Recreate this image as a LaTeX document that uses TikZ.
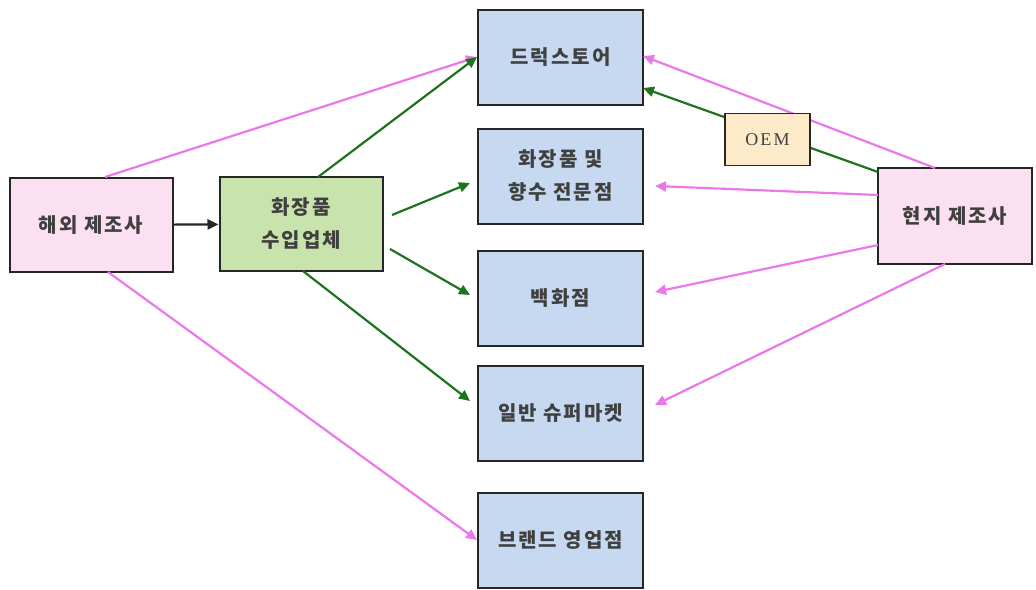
\documentclass[tikz,border=0pt]{standalone}
\usepackage{fontspec}
\newfontfamily\kr[LetterSpace=10]{Noto Sans CJK KR}
\newfontfamily\oemfont[LetterSpace=12]{Liberation Serif}
\usetikzlibrary{arrows.meta}
\definecolor{pinkfill}{RGB}{250,224,240}
\definecolor{greenfill}{RGB}{200,228,172}
\definecolor{bluefill}{RGB}{198,217,240}
\definecolor{oemfill}{RGB}{253,234,200}
\definecolor{pinkline}{RGB}{235,120,235}
\definecolor{greenline}{RGB}{30,115,30}
\tikzset{
  box/.style={draw=black!85, line width=2pt, minimum width=163pt, minimum height=94pt, align=center, font=\kr\bfseries\fontsize{20}{33}\selectfont, text=black!75, inner sep=0pt},
  outlet/.style={box, fill=bluefill, minimum width=165pt, minimum height=95pt},
  tip/.style={-{Triangle[length=11pt,width=10pt]}},
  pk/.style={draw=pinkline, line width=2.2pt, tip},
  gn/.style={draw=greenline, line width=2.2pt, tip},
}
\begin{document}
\begin{tikzpicture}[x=1pt,y=-1pt]
\useasboundingbox (0,0) rectangle (1036,589);
% nodes
\node[box, fill=pinkfill] (over) at (91,225) {해외 제조사};
\node[box, fill=greenfill] (imp) at (301,224) {화장품\\수입업체};
\node[outlet] (drug) at (560.5,57) {드럭스토어};
\node[outlet] (spec) at (560.5,176) {화장품 및\\향수 전문점};
\node[outlet] (dept) at (560.5,298) {백화점};
\node[outlet] (super) at (560.5,413) {일반 슈퍼마켓};
\node[outlet] (brand) at (560.5,540) {브랜드 영업점};
\node[box, fill=pinkfill, minimum width=154pt, minimum height=96pt] (local) at (955,216) {현지 제조사};
% coordinates
\coordinate (o1) at (105,177);
\coordinate (o2) at (108,272);
\coordinate (i1) at (318,177);
\coordinate (i2) at (392,215);
\coordinate (i3) at (390,249);
\coordinate (i4) at (303,271);
\coordinate (l1) at (935,168);
\coordinate (l2) at (878,172);
\coordinate (l3) at (878,195);
\coordinate (l4) at (878,245);
\coordinate (l5) at (945,264);
\coordinate (e2) at (470,183);
\coordinate (e3) at (470,295);
\coordinate (e4) at (470,401);
\coordinate (f2) at (655,186);
\coordinate (f3) at (655,292);
\coordinate (f4) at (655,405);
\coordinate (d1) at (643,56);
\coordinate (d2) at (643,88);
% connectors
\draw[line width=2.2pt, black!85, tip] (over) -- (imp);
\draw[pk] (o1) -- (drug.west);
\draw[pk] (o2) -- (brand.west);
\draw[gn] (i1) -- (drug.west);
\draw[gn] (i2) -- (e2);
\draw[gn] (i3) -- (e3);
\draw[gn] (i4) -- (e4);
\draw[gn] (l2) -- (d2);
\draw[pk] (l1) -- (d1);
\draw[pk] (l3) -- (f2);
\draw[pk] (l4) -- (f3);
\draw[pk] (l5) -- (f4);
\node[draw=black!85, line width=1.8pt, fill=oemfill, minimum width=85pt, minimum height=52pt, inner sep=0pt, font=\oemfont\fontsize{18}{18}\selectfont, text=black!75] (oem) at (767.5,139.5) {OEM};
\end{tikzpicture}
\end{document}
